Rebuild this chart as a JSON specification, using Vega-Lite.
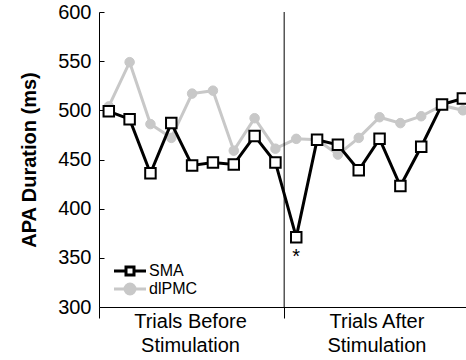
{
  "$schema": "https://vega.github.io/schema/vega-lite/v6.json",
  "width": 367,
  "height": 295,
  "autosize": {"type": "none"},
  "padding": {"left": 99, "top": 12, "right": 0, "bottom": 53},
  "config": {
    "view": {"stroke": null},
    "font": "Liberation Sans",
    "axis": {"domainColor": "black", "tickColor": "black", "labelColor": "black", "titleColor": "black", "labelFont": "Liberation Sans", "titleFont": "Liberation Sans", "labelFontSize": 20, "grid": false, "domainWidth": 1, "tickWidth": 1}
  },
  "datasets": {
    "trials": [
      {"series": "dlPMC", "trial": 0, "value": 504},
      {"series": "dlPMC", "trial": 1, "value": 549},
      {"series": "dlPMC", "trial": 2, "value": 486},
      {"series": "dlPMC", "trial": 3, "value": 472},
      {"series": "dlPMC", "trial": 4, "value": 517},
      {"series": "dlPMC", "trial": 5, "value": 520},
      {"series": "dlPMC", "trial": 6, "value": 459},
      {"series": "dlPMC", "trial": 7, "value": 492},
      {"series": "dlPMC", "trial": 8, "value": 461},
      {"series": "dlPMC", "trial": 9, "value": 471},
      {"series": "dlPMC", "trial": 10, "value": 470},
      {"series": "dlPMC", "trial": 11, "value": 455},
      {"series": "dlPMC", "trial": 12, "value": 472},
      {"series": "dlPMC", "trial": 13, "value": 493},
      {"series": "dlPMC", "trial": 14, "value": 487},
      {"series": "dlPMC", "trial": 15, "value": 494},
      {"series": "dlPMC", "trial": 16, "value": 505},
      {"series": "dlPMC", "trial": 17, "value": 500},
      {"series": "SMA", "trial": 0, "value": 499},
      {"series": "SMA", "trial": 1, "value": 491},
      {"series": "SMA", "trial": 2, "value": 436},
      {"series": "SMA", "trial": 3, "value": 487},
      {"series": "SMA", "trial": 4, "value": 444},
      {"series": "SMA", "trial": 5, "value": 447},
      {"series": "SMA", "trial": 6, "value": 445},
      {"series": "SMA", "trial": 7, "value": 474},
      {"series": "SMA", "trial": 8, "value": 447},
      {"series": "SMA", "trial": 9, "value": 371},
      {"series": "SMA", "trial": 10, "value": 470},
      {"series": "SMA", "trial": 11, "value": 465},
      {"series": "SMA", "trial": 12, "value": 439},
      {"series": "SMA", "trial": 13, "value": 471},
      {"series": "SMA", "trial": 14, "value": 423},
      {"series": "SMA", "trial": 15, "value": 463},
      {"series": "SMA", "trial": 16, "value": 506},
      {"series": "SMA", "trial": 17, "value": 512}
    ],
    "divider": [{"trial": 8.42}],
    "note": [{"trial": 9, "value": 371, "label": "*"}]
  },
  "layer": [
    {
      "data": {"name": "trials"},
      "transform": [{"filter": "datum.series === 'dlPMC'"}],
      "mark": {"type": "line", "strokeWidth": 3},
      "encoding": {
        "x": {
          "field": "trial", "type": "quantitative",
          "scale": {"domain": [-0.47, 17.15], "nice": false, "zero": false},
          "axis": {
            "title": null,
            "values": [-0.47, 3.9, 8.42, 12.85],
            "labelExpr": "(datum.value > 3 && datum.value < 5) ? ['Trials Before', 'Stimulation'] : ((datum.value > 12 && datum.value < 14) ? ['Trials After', 'Stimulation'] : '')",
            "tickSize": 11,
            "tickOpacity": {"condition": {"test": "datum.value == 3.9 || datum.value == 12.85", "value": 0}, "value": 1},
            "labelPadding": -7,
            "labelLineHeight": 24,
            "labelAngle": 0,
            "labelOverlap": false,
            "labelFlush": false,
            "labelBound": false
          }
        },
        "y": {
          "field": "value", "type": "quantitative",
          "scale": {"domain": [300, 600], "nice": false, "zero": false},
          "axis": {
            "title": "APA Duration (ms)",
            "titleFontSize": 20,
            "titleFontWeight": "bold",
            "titlePadding": 18,
            "values": [300, 350, 400, 450, 500, 550, 600],
            "tickSize": -5,
            "labelPadding": 13
          }
        },
        "stroke": {
          "field": "series", "type": "nominal",
          "scale": {"domain": ["SMA", "dlPMC"], "range": ["black", "#c8c8c8"]},
          "legend": {
            "orient": "none",
            "legendX": 23,
            "legendY": 251,
            "title": null,
            "padding": 0,
            "symbolSize": 100,
            "symbolStrokeWidth": 3,
            "labelFontSize": 16,
            "labelOffset": 11,
            "labelFont": "Liberation Sans",
            "labelColor": "black",
            "rowPadding": -4,
            "encode": {
              "symbols": {
                "update": {
                  "shape": {"signal": "datum.value === 'SMA' ? 'M-3.2,0H-0.8M0.8,0H3.2M-0.8,-0.8H0.8V0.8H-0.8Z' : 'M-3.2,0H3.2M-1,0A1,1,0,1,0,1,0A1,1,0,1,0,-1,0Z'"},
                  "fill": {"signal": "datum.value === 'SMA' ? 'white' : '#c8c8c8'"},
                  "fillOpacity": {"value": 1},
                  "strokeWidth": {"value": 3}
                }
              }
            }
          }
        }
      }
    },
    {
      "data": {"name": "trials"},
      "transform": [{"filter": "datum.series === 'dlPMC'"}],
      "mark": {"type": "point", "shape": "circle", "filled": true, "fill": "#c8c8c8", "fillOpacity": 1, "size": 90, "strokeWidth": 1},
      "encoding": {
        "x": {"field": "trial", "type": "quantitative"},
        "y": {"field": "value", "type": "quantitative"},
        "stroke": {"field": "series", "type": "nominal"}
      }
    },
    {
      "data": {"name": "divider"},
      "mark": {"type": "rule", "color": "black", "strokeWidth": 1},
      "encoding": {
        "x": {"field": "trial", "type": "quantitative"}
      }
    },
    {
      "data": {"name": "trials"},
      "transform": [{"filter": "datum.series === 'SMA'"}],
      "mark": {"type": "line", "strokeWidth": 3},
      "encoding": {
        "x": {"field": "trial", "type": "quantitative"},
        "y": {"field": "value", "type": "quantitative"},
        "stroke": {"field": "series", "type": "nominal"}
      }
    },
    {
      "data": {"name": "trials"},
      "transform": [{"filter": "datum.series === 'SMA'"}],
      "mark": {"type": "point", "shape": "square", "filled": true, "fill": "white", "fillOpacity": 1, "size": 110, "strokeWidth": 2},
      "encoding": {
        "x": {"field": "trial", "type": "quantitative"},
        "y": {"field": "value", "type": "quantitative"},
        "stroke": {"field": "series", "type": "nominal"}
      }
    },
    {
      "data": {"name": "note"},
      "mark": {"type": "text", "dy": 10, "baseline": "top", "fontSize": 20, "font": "Liberation Sans", "color": "black"},
      "encoding": {
        "x": {"field": "trial", "type": "quantitative"},
        "y": {"field": "value", "type": "quantitative"},
        "text": {"field": "label"}
      }
    }
  ]
}
